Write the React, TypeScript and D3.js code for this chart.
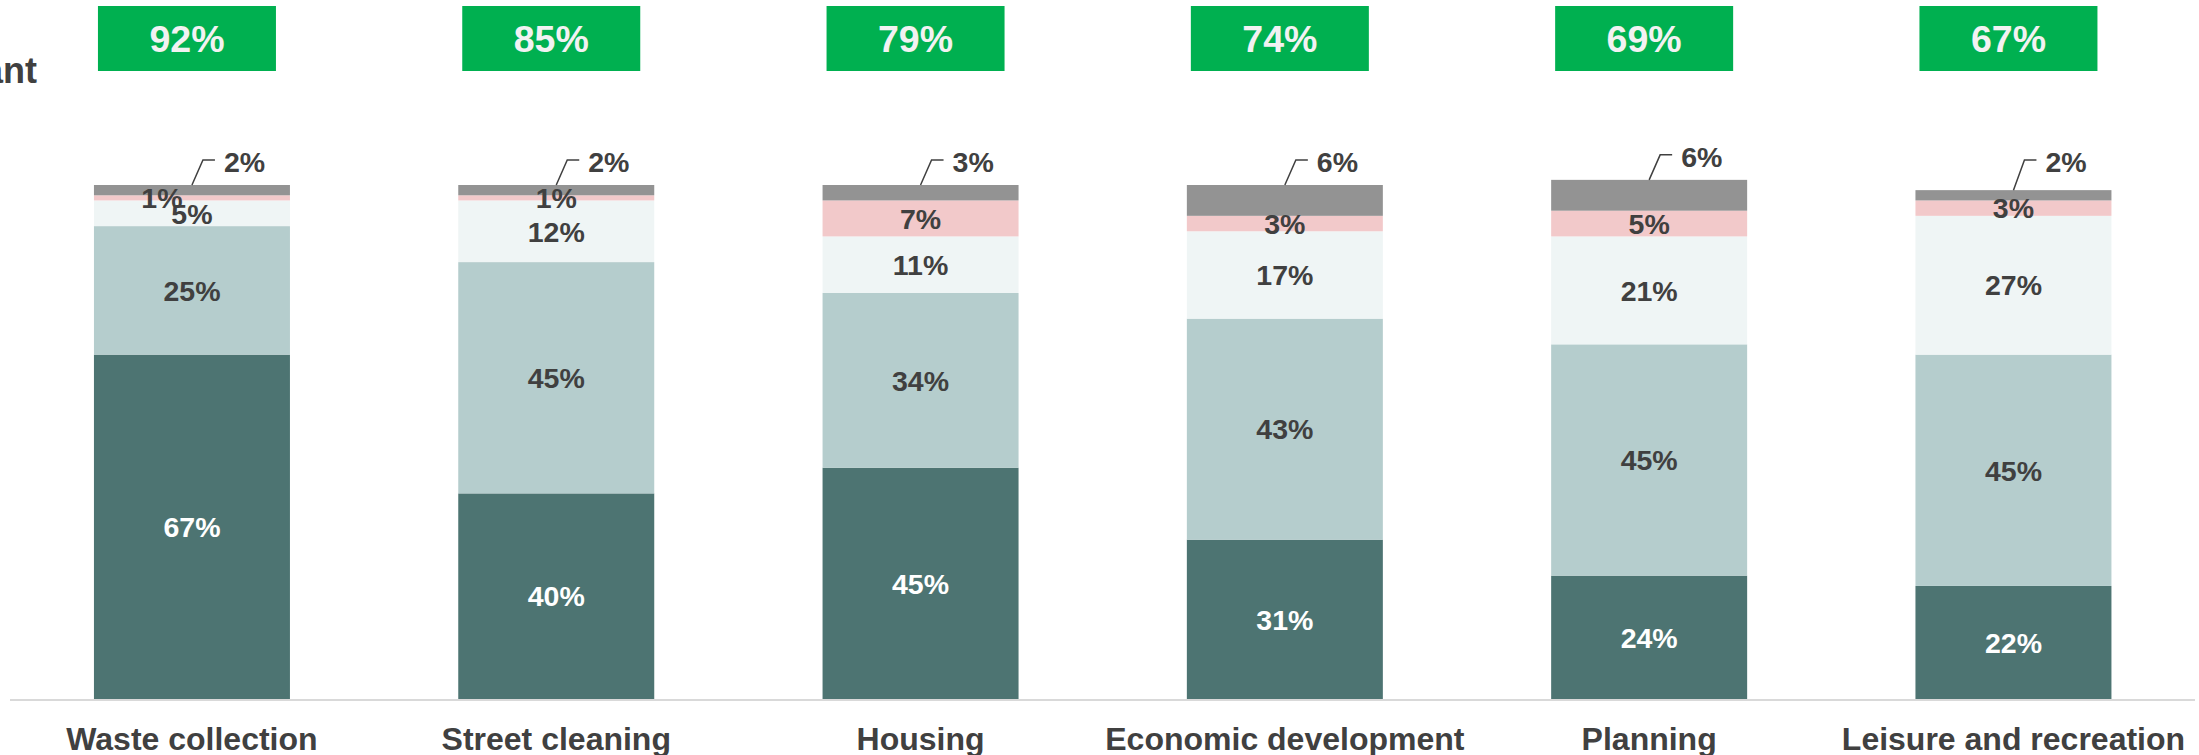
import React from "react";
import * as d3 from "d3";

const categories = [
  "Waste collection",
  "Street cleaning",
  "Housing",
  "Economic development",
  "Planning",
  "Leisure and recreation",
];
const seriesKeys = ["s1", "s2", "s3", "s4", "s5"];
const s1 = [67, 40, 45, 31, 24, 22];
const s2 = [25, 45, 34, 43, 45, 45];
const s3 = [5, 12, 11, 17, 21, 27];
const s4 = [1, 1, 7, 3, 5, 3];
const s5 = [2, 2, 3, 6, 6, 2];
const headline = [92, 85, 79, 74, 69, 67];
const sideTitle = "Important";

const colors = ["#4D7472", "#B5CDCD", "#EFF5F5", "#F2C9CA", "#939393"];
const labelColors = ["#FFFFFF", "#404040", "#404040", "#404040", "#404040"];

const W = 2199;
const H = 755;
const FONT = "Arial, 'Liberation Sans', Helvetica, sans-serif";

export default function App() {
  const rows = categories.map((c, i) => ({
    cat: c,
    s1: s1[i],
    s2: s2[i],
    s3: s3[i],
    s4: s4[i],
    s5: s5[i],
  }));
  const stack = d3.stack<any>().keys(seriesKeys)(rows);

  const x = d3
    .scaleBand<string>()
    .domain(categories)
    .range([9.8, 2195.6])
    .paddingInner(0.462)
    .paddingOuter(0.231);
  const y = d3.scaleLinear().domain([0, 100]).range([699, 185]);
  const bw = x.bandwidth();

  return (
    <svg
      width={W}
      height={H}
      style={{ position: "absolute", left: 0, top: 0, display: "block" }}
      fontFamily={FONT}
    >
      <rect width={W} height={H} fill="#ffffff" />
      <text
        x={37}
        y={83}
        textAnchor="end"
        fontSize={36}
        fontWeight="bold"
        fill="#404040"
      >
        {sideTitle}
      </text>

      {/* headline boxes */}
      {categories.map((c, i) => {
        const cx = (x(c) as number) + bw / 2 - 5;
        return (
          <g key={"h" + c}>
            <rect x={cx - 89} y={6} width={178} height={65} fill="#00B050" />
            <text
              x={cx}
              y={38.5}
              dy="0.36em"
              textAnchor="middle"
              fontSize={37.5}
              fontWeight="bold"
              fill="#F2F2F2"
            >
              {headline[i]}%
            </text>
          </g>
        );
      })}

      {/* bars */}
      {stack.map((layer, si) => (
        <g key={"l" + si}>
          {layer.map((d, i) => (
            <rect
              key={i}
              x={x(categories[i])}
              y={y(d[1])}
              width={bw}
              height={y(d[0]) - y(d[1])}
              fill={colors[si]}
            />
          ))}
        </g>
      ))}

      {/* axis line */}
      <line x1={10} x2={2195} y1={700} y2={700} stroke="#D9D9D9" strokeWidth={2} />

      {/* inner labels */}
      {stack.map((layer, si) =>
        si === 4
          ? null
          : layer.map((d, i) => {
              const cx = (x(categories[i]) as number) + bw / 2;
              const cy = (y(d[0]) + y(d[1])) / 2;
              let dx = 0;
              if (si === 3) {
                const below = stack[2][i];
                const cyBelow = (y(below[0]) + y(below[1])) / 2;
                if (cyBelow - cy < 24) dx = -30;
              }
              return (
                <text
                  key={si + "-" + i}
                  x={cx + dx}
                  y={cy}
                  dy="0.36em"
                  textAnchor="middle"
                  fontSize={28.5}
                  fontWeight="bold"
                  fill={labelColors[si]}
                >
                  {(d[1] - d[0]).toFixed(0)}%
                </text>
              );
            })
      )}

      {/* callouts for top segment */}
      {stack[4].map((d, i) => {
        const cx = (x(categories[i]) as number) + bw / 2;
        const top = y(d[1]);
        const ey = Math.min(top - 25, 160);
        return (
          <g key={"c" + i}>
            <path
              d={`M${cx},${top}L${cx + 11},${ey}L${cx + 23},${ey}`}
              fill="none"
              stroke="#404040"
              strokeWidth={1.5}
            />
            <text
              x={cx + 32}
              y={ey + 2}
              dy="0.36em"
              fontSize={28.5}
              fontWeight="bold"
              fill="#404040"
            >
              {(d[1] - d[0]).toFixed(0)}%
            </text>
          </g>
        );
      })}

      {/* category labels */}
      {categories.map((c) => (
        <text
          key={"x" + c}
          x={(x(c) as number) + bw / 2}
          y={750}
          textAnchor="middle"
          fontSize={32}
          fontWeight="bold"
          fill="#404040"
        >
          {c}
        </text>
      ))}
    </svg>
  );
}
